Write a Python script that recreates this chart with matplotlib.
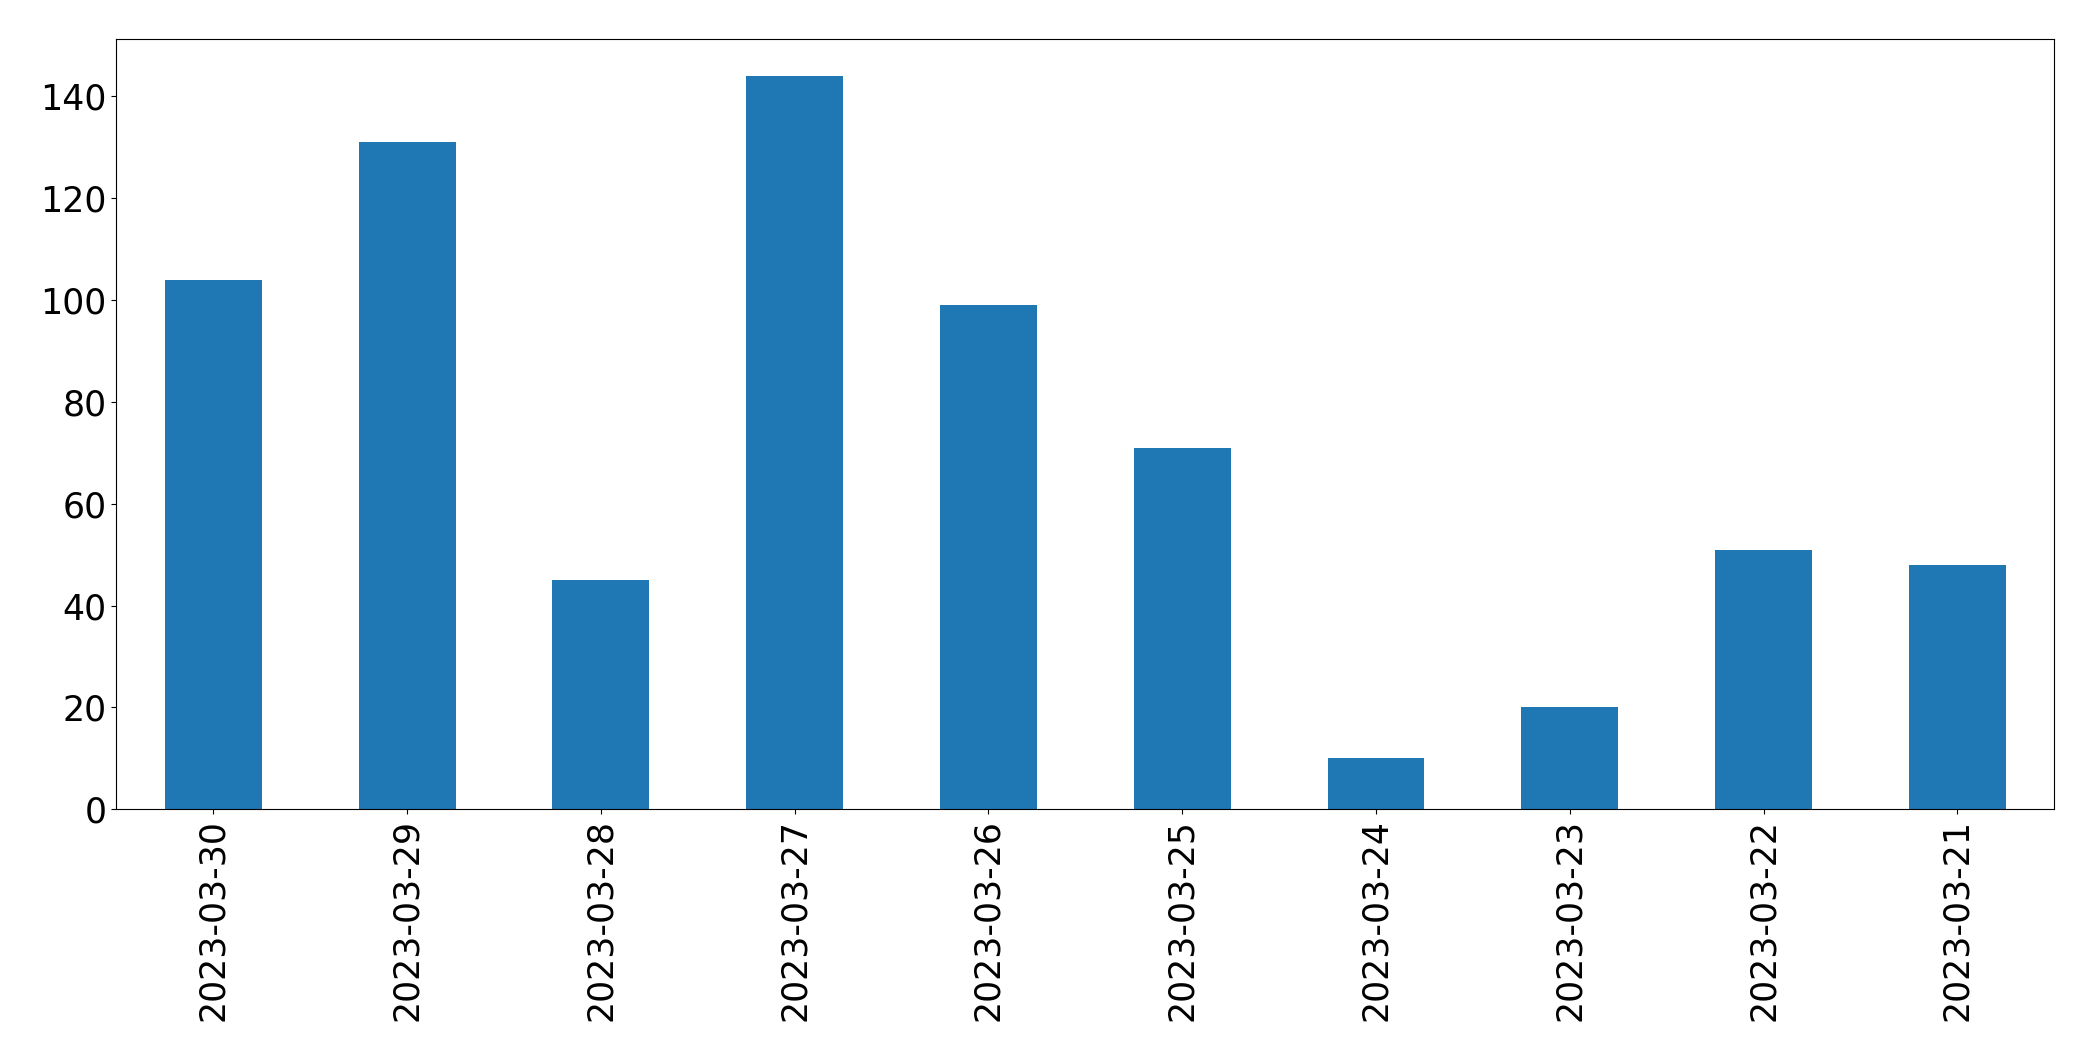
import matplotlib
matplotlib.use("Agg")
import matplotlib.pyplot as plt
import pandas as pd

dates = ["2023-03-30", "2023-03-29", "2023-03-28", "2023-03-27", "2023-03-26",
         "2023-03-25", "2023-03-24", "2023-03-23", "2023-03-22", "2023-03-21"]
counts = [104, 131, 45, 144, 99, 71, 10, 20, 51, 48]

series = pd.Series(counts, index=dates)

fig = plt.figure(figsize=(20.93, 10.61), dpi=100)
ax = fig.add_axes([0.0556, 0.2372, 0.9259, 0.7258])
series.plot(kind="bar", ax=ax, color="#1f77b4", fontsize=25)

fig.savefig("out.png", dpi=100)
